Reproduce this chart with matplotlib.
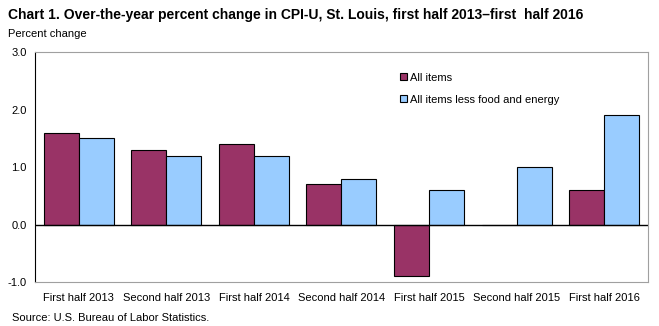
import numpy as np
import matplotlib.pyplot as plt

periods = ['First half 2013', 'Second half 2013', 'First half 2014', 'Second half 2014',
           'First half 2015', 'Second half 2015', 'First half 2016']
all_items = [1.6, 1.3, 1.4, 0.7, -0.9, 0.0, 0.6]
core_items = [1.5, 1.2, 1.2, 0.8, 0.6, 1.0, 1.9]
y_ticks = [-1.0, 0.0, 1.0, 2.0, 3.0]

plt.rcParams['font.family'] = ['Liberation Sans', 'DejaVu Sans']

fig = plt.figure(figsize=(6.59, 3.26), dpi=100)
ax = fig.add_axes([0.0531, 0.135, 0.930, 0.705])

x = np.arange(len(periods))
width = 0.4
ax.bar(x - width / 2, all_items, width, color='#993366', edgecolor='black', linewidth=0.8,
       label='All items')
ax.bar(x + width / 2, core_items, width, color='#99CCFF', edgecolor='black', linewidth=0.8,
       label='All items less food and energy')
ax.axhline(0, color='black', linewidth=1)

ax.set_xlim(-0.5, len(periods) - 0.5)
ax.set_ylim(-1.0, 3.0)
ax.set_yticks(y_ticks)
ax.set_yticklabels([f'{v:.1f}' for v in y_ticks], fontsize=8)
ax.set_xticks(x)
ax.set_xticklabels(periods, fontsize=8)
ax.tick_params(axis='x', length=0, pad=8)
ax.tick_params(axis='y', length=0, pad=6)

for side in ['top', 'right', 'bottom']:
    ax.spines[side].set_color('#A0A0A0')
ax.spines['left'].set_color('black')

ax.legend(loc='upper left', bbox_to_anchor=(0.58, 0.955), frameon=False, fontsize=8,
          handlelength=0.6, handleheight=0.6, handletextpad=0.3, labelspacing=1.1)

fig.text(0.012, 0.955, 'Chart 1. Over-the-year percent change in CPI-U, St. Louis, first half 2013\u2013first  half 2016',
         fontsize=10, fontweight='bold', va='center')
fig.text(0.012, 0.895, 'Percent change', fontsize=8, va='center')
fig.text(0.018, 0.025, 'Source: U.S. Bureau of Labor Statistics.', fontsize=8, va='center')

fig.savefig('out.png', dpi=100)
